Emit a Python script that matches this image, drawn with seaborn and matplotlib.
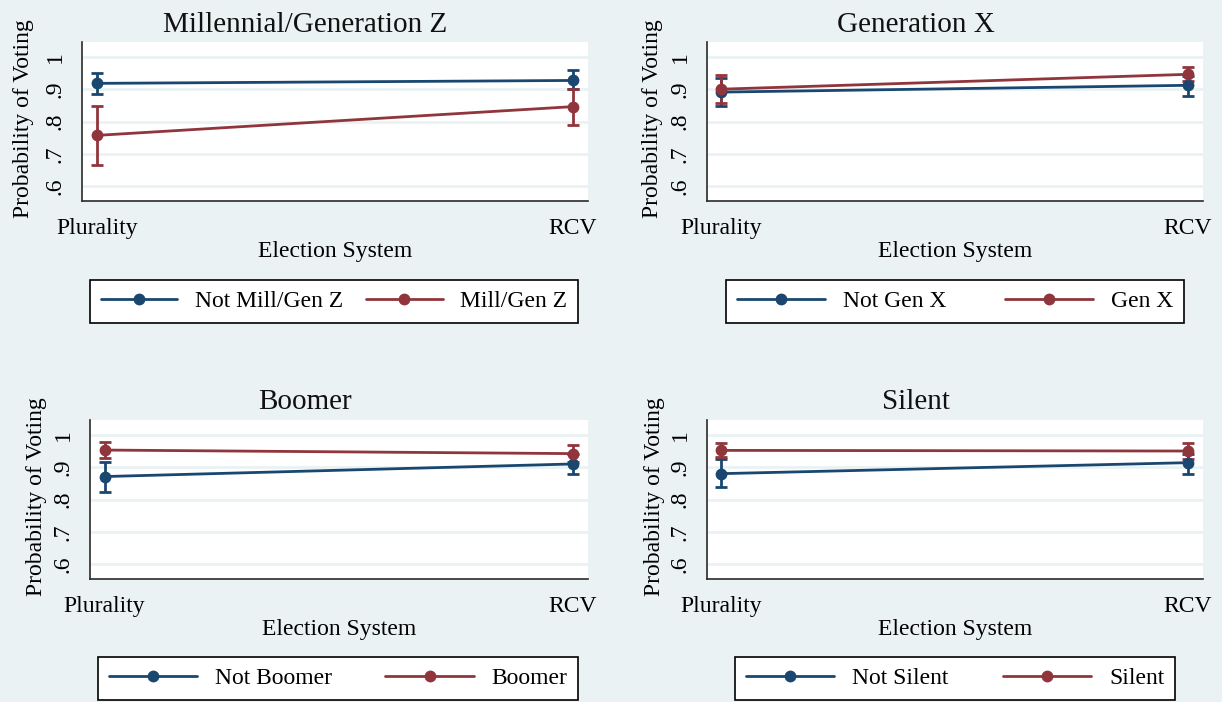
import matplotlib
matplotlib.use("Agg")
import matplotlib.pyplot as plt
from matplotlib.lines import Line2D
import numpy as np
import pandas as pd
import seaborn as sns

# ---- data: predicted probability of voting with 95% CIs ----
systems = ["Plurality", "RCV"]

titles = ["Millennial/Generation Z", "Generation X", "Boomer", "Silent"]
labels_not = ["Not Mill/Gen Z", "Not Gen X", "Not Boomer", "Not Silent"]
labels_in = ["Mill/Gen Z", "Gen X", "Boomer", "Silent"]

mill_not = [0.918, 0.927]
mill_not_lo = [0.886, 0.901]
mill_not_hi = [0.949, 0.960]
mill_in = [0.757, 0.846]
mill_in_lo = [0.666, 0.788]
mill_in_hi = [0.849, 0.901]

genx_not = [0.891, 0.912]
genx_not_lo = [0.849, 0.880]
genx_not_hi = [0.934, 0.942]
genx_in = [0.900, 0.946]
genx_in_lo = [0.857, 0.924]
genx_in_hi = [0.943, 0.968]

boom_not = [0.871, 0.910]
boom_not_lo = [0.823, 0.880]
boom_not_hi = [0.917, 0.940]
boom_in = [0.953, 0.942]
boom_in_lo = [0.929, 0.916]
boom_in_hi = [0.977, 0.970]

silent_not = [0.880, 0.914]
silent_not_lo = [0.838, 0.880]
silent_not_hi = [0.924, 0.940]
silent_in = [0.952, 0.950]
silent_in_lo = [0.930, 0.926]
silent_in_hi = [0.976, 0.975]

yticks = [0.6, 0.7, 0.8, 0.9, 1.0]
ytick_labels = [".6", ".7", ".8", ".9", "1"]

# ---- style ----
NAVY = "#1A476F"
MAROON = "#90353B"
BG = "#EAF2F3"
AXCOL = "#2a2a2a"

sns.set_theme(style="white")
plt.rcParams["font.family"] = ["Liberation Serif", "DejaVu Serif"]
plt.rcParams["text.color"] = "black"
plt.rcParams["axes.labelcolor"] = "black"
plt.rcParams["xtick.color"] = AXCOL
plt.rcParams["ytick.color"] = AXCOL
plt.rcParams["xtick.labelcolor"] = "black"
plt.rcParams["ytick.labelcolor"] = "black"

W, H = 1222, 702
fig = plt.figure(figsize=(W / 100, H / 100), dpi=100, facecolor=BG)

FS = 17
LW = 2.0
MS = 8.5

panels = [
    dict(title=titles[0], lab=(labels_not[0], labels_in[0]),
         a=(mill_not, mill_not_lo, mill_not_hi), b=(mill_in, mill_in_lo, mill_in_hi),
         box=(82, 588, 42, 201), tx=305, ty=31.5, ylab_x=34, leg=(90, 578, 280, 323), hl=3.25),
    dict(title=titles[1], lab=(labels_not[1], labels_in[1]),
         a=(genx_not, genx_not_lo, genx_not_hi), b=(genx_in, genx_in_lo, genx_in_hi),
         box=(707, 1203, 42, 201), tx=916, ty=31.5, ylab_x=663, leg=(726, 1184, 280, 323), hl=3.75),
    dict(title=titles[2], lab=(labels_not[2], labels_in[2]),
         a=(boom_not, boom_not_lo, boom_not_hi), b=(boom_in, boom_in_lo, boom_in_hi),
         box=(90, 588, 420, 579), tx=305, ty=409, ylab_x=47.5, leg=(98, 578, 657, 700), hl=3.75),
    dict(title=titles[3], lab=(labels_not[3], labels_in[3]),
         a=(silent_not, silent_not_lo, silent_not_hi), b=(silent_in, silent_in_lo, silent_in_hi),
         box=(707, 1203, 420, 579), tx=916, ty=409, ylab_x=665, leg=(735, 1175, 657, 700), hl=3.75),
]

xpos = np.arange(len(systems))

for p in panels:
    L, R, T, B = p["box"]
    ax = fig.add_axes([L / W, 1 - B / H, (R - L) / W, (B - T) / H])
    ax.set_facecolor("white")

    # long-form frame for seaborn
    rows = []
    for lab, (est, lo, hi) in zip(p["lab"], (p["a"], p["b"])):
        for i, s in enumerate(systems):
            rows.append(dict(system=i, prob=est[i], lo=lo[i], hi=hi[i], group=lab))
    df = pd.DataFrame(rows)

    pal = {p["lab"][0]: NAVY, p["lab"][1]: MAROON}

    # confidence intervals (capped)
    for lab in p["lab"]:
        d = df[df.group == lab]
        ax.errorbar(d.system, d.prob, yerr=[d.prob - d.lo, d.hi - d.prob],
                    fmt="none", ecolor=pal[lab], elinewidth=LW, capsize=4,
                    capthick=LW, zorder=3)

    sns.lineplot(data=df, x="system", y="prob", hue="group", hue_order=list(p["lab"]),
                 palette=pal, marker="o", markersize=MS, markeredgewidth=0,
                 linewidth=LW, errorbar=None, legend=False, ax=ax, zorder=4)

    ax.set_xlim(-0.031, 1.032)
    ax.set_ylim(0.554, 1.046)
    ax.set_xticks(xpos)
    ax.set_xticklabels(systems, fontsize=FS)
    ax.set_yticks(yticks)
    ax.set_yticklabels(ytick_labels, fontsize=FS)
    ax.tick_params(axis="y", labelrotation=90, length=7.2, width=1.1, pad=4.5)
    ax.tick_params(axis="x", length=6.5, width=1.1, pad=5.5)
    for lbl in ax.get_yticklabels():
        lbl.set_verticalalignment("center")

    ax.yaxis.grid(True, color=BG, linewidth=2.0)
    ax.xaxis.grid(False)
    ax.set_axisbelow(True)

    for side in ("top", "right"):
        ax.spines[side].set_visible(False)
    for side in ("left", "bottom"):
        ax.spines[side].set_color(AXCOL)
        ax.spines[side].set_linewidth(1.2)

    ax.set_xlabel("Election System", fontsize=FS)
    ax.set_ylabel("Probability of Voting", fontsize=FS)
    ax.xaxis.set_label_coords(0.5, -0.25)
    ax.yaxis.set_label_coords((p["ylab_x"] - L) / (R - L), 0.52)

    fig.text(p["tx"] / W, 1 - p["ty"] / H, p["title"], fontsize=21,
             ha="center", va="baseline", color="#111111")

    handles = [Line2D([], [], color=NAVY, lw=LW, marker="o", markersize=MS, markeredgewidth=0),
               Line2D([], [], color=MAROON, lw=LW, marker="o", markersize=MS, markeredgewidth=0)]
    lx0, lx1, ly0, ly1 = p["leg"]
    leg = fig.legend(handles, list(p["lab"]), loc="center", ncol=2, mode="expand",
                     bbox_to_anchor=(lx0 / W, 1 - ly1 / H, (lx1 - lx0) / W, (ly1 - ly0) / H),
                     fontsize=FS, frameon=True, fancybox=False, framealpha=1,
                     edgecolor="black", facecolor="white", handlelength=p["hl"],
                     handletextpad=0.75, borderpad=0.45, borderaxespad=0, numpoints=1)
    leg.get_frame().set_linewidth(1.2)

fig.savefig("out.png", dpi=100, facecolor=BG)
